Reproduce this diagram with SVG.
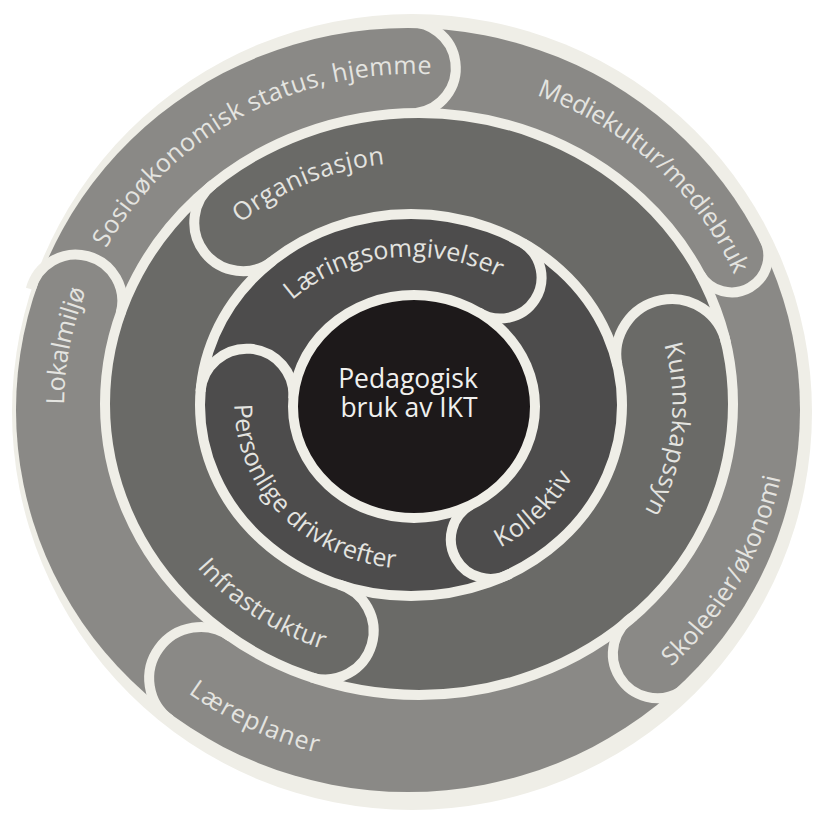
<svg xmlns="http://www.w3.org/2000/svg" width="821" height="815" viewBox="0 0 821 815">
  <defs>
    <style>
      .gap { fill: none; stroke: #efeee7; stroke-width: 10; }
      .lbl { font-family: "Open Sans", "Noto Sans", sans-serif; font-size: 25px; fill: #e4e4e0; }
      .ctr { font-family: "Open Sans", "Noto Sans", sans-serif; font-size: 26.5px; fill: #f0f0ee; text-anchor: middle; }
    </style>
    <!-- label baselines: elliptical arcs following each ring -->
    <path id="p-sosio" d="M106,248.5 A349.5,333 0 0 1 504,85.3"/>
    <path id="p-medie" d="M536.5,95.3 A349.5,333 0 0 1 757.7,349.2"/>
    <path id="p-lokal" d="M64,404.7 A349.5,333 0 0 1 127.2,216"/>
    <path id="p-skole" d="M671.3,666.7 A374.5,358 0 0 0 788,407"/>
    <path id="p-laere" d="M188.1,692.9 A374.5,358 0 0 0 413.5,765"/>
    <path id="p-org" d="M240.4,223.3 A263.5,242 0 0 1 483.2,170.7"/>
    <path id="p-kunn" d="M664.1,344.6 A257.5,236 0 0 1 612.3,556.2"/>
    <path id="p-infra" d="M197,567.5 A280.5,259 0 0 0 415,663.5"/>
    <path id="p-laer" d="M292.3,300.4 A170,149 0 0 1 551.8,320.3"/>
    <path id="p-pers" d="M234.5,404.3 A178,163 0 0 0 501.5,547"/>
    <path id="p-koll" d="M500.1,547.6 A178,163 0 0 0 590.5,405.75"/>
  </defs>

  <rect width="821" height="815" fill="#ffffff"/>
  <!-- paper disk -->
  <ellipse cx="412" cy="412" rx="400" ry="398" fill="#efeee7"/>

  <!-- rings, outermost first; each inner ring is outlined by the paper-coloured gap -->
  <g id="ring-outer">
    <ellipse cx="408" cy="410" rx="392" ry="382" fill="#8a8986"/>
  </g>
  <g id="ring-middle">
    <ellipse class="gap" cx="419" cy="404" rx="314" ry="291" style="fill:#6a6a67"/>
  </g>
  <g id="ring-inner">
    <ellipse class="gap" cx="411" cy="405" rx="211" ry="191" style="fill:#4d4c4c"/>
  </g>

  <!-- rounded heads of the ring segments -->
  <g id="connectors">
    <!-- outer ring: heads turn clockwise -->
    <path class="gap" d="M404.5,23 A1,1 0 0 1 416.3,113"/>
    <path class="gap" d="M763.3,237.3 A1,1 0 0 1 700,274.2"/>
    <path class="gap" d="M680.3,691.7 A1,1 0 0 1 634.3,615.8"/>
    <path class="gap" d="M170.2,719.9 A1,1 0 0 1 230.9,637"/>
    <path class="gap" d="M30.8,289.1 A1,1 0 0 1 120.7,313.1"/>
    <!-- middle ring: heads turn anticlockwise -->
    <path class="gap" d="M213,184.4 A1,1 0 0 0 272.6,260.9"/>
    <path class="gap" d="M726.1,343.5 A1,1 0 0 0 617.4,365.3"/>
    <path class="gap" d="M311.6,677.5 A1,1 0 0 0 338.8,584.5"/>
    <!-- inner ring: heads turn clockwise -->
    <path class="gap" d="M522.8,243 A1,1 0 0 1 478.1,311.9"/>
    <path class="gap" d="M510.1,573.6 A1,1 0 0 1 470.8,504.9"/>
    <path class="gap" d="M200.5,391.7 A1,1 0 0 1 293.3,398.7"/>
  </g>

  <!-- outer ring labels -->
  <g id="sosio"><text class="lbl"><textPath href="#p-sosio" textLength="388" lengthAdjust="spacing">Sosioøkonomisk status, hjemme</textPath></text></g>
  <g id="medie"><text class="lbl"><textPath href="#p-medie" textLength="274" lengthAdjust="spacing">Mediekultur/mediebruk</textPath></text></g>
  <g id="skole"><text class="lbl"><textPath href="#p-skole" textLength="222" lengthAdjust="spacing">Skoleeier/økonomi</textPath></text></g>
  <g id="laere"><text class="lbl"><textPath href="#p-laere" textLength="143" lengthAdjust="spacing">Læreplaner</textPath></text></g>
  <g id="lokal"><text class="lbl"><textPath href="#p-lokal" textLength="117" lengthAdjust="spacing">Lokalmiljø</textPath></text></g>

  <!-- middle ring labels -->
  <g id="org"><text class="lbl"><textPath href="#p-org" textLength="158" lengthAdjust="spacing">Organisasjon</textPath></text></g>
  <g id="kunn"><text class="lbl"><textPath href="#p-kunn" textLength="172" lengthAdjust="spacing">Kunnskapssyn</textPath></text></g>
  <g id="infra"><text class="lbl"><textPath href="#p-infra" textLength="152" lengthAdjust="spacing">Infrastruktur</textPath></text></g>

  <!-- inner ring labels -->
  <g id="laer"><text class="lbl"><textPath href="#p-laer" textLength="220" lengthAdjust="spacing">Læringsomgivelser</textPath></text></g>
  <g id="pers"><text class="lbl"><textPath href="#p-pers" textLength="252" lengthAdjust="spacing">Personlige drivkrefter</textPath></text></g>
  <g id="koll"><text class="lbl"><textPath href="#p-koll" textLength="103" lengthAdjust="spacing">Kollektiv</textPath></text></g>

  <!-- centre -->
  <g id="centre">
    <ellipse class="gap" cx="414" cy="406.5" rx="121" ry="111.5" style="fill:#1d191a"/>
    <text class="ctr" x="408" y="388">Pedagogisk</text>
    <text class="ctr" x="409" y="417">bruk av IKT</text>
  </g>
</svg>
